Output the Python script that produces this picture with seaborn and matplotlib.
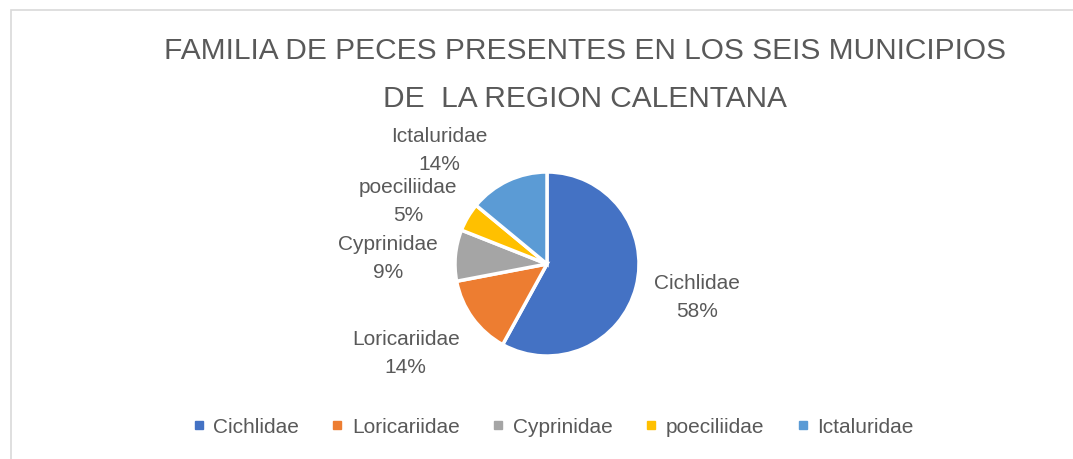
import matplotlib
matplotlib.use("Agg")
import matplotlib.pyplot as plt
from matplotlib.lines import Line2D
from matplotlib.patches import Rectangle
import numpy as np
import seaborn as sns

# datos del grafico
familias = ['Cichlidae', 'Loricariidae', 'Cyprinidae', 'poeciliidae', 'Ictaluridae']
porcentajes = [58, 14, 9, 5, 14]
colores = ['#4472C4', '#ED7D31', '#A5A5A5', '#FFC000', '#5B9BD5']
titulo = 'FAMILIA DE PECES PRESENTES EN LOS SEIS MUNICIPIOS\nDE  LA REGION CALENTANA'

sns.set_theme(style='white')
plt.rcParams['font.family'] = ['Liberation Sans', 'DejaVu Sans']
gris = '#595959'

W, H = 1073, 460
fig = plt.figure(figsize=(W / 100, H / 100), dpi=100)

# borde del area del grafico
fig.patches.append(Rectangle((10.5 / W, -0.1), 1.2, (H - 10.5) / H + 0.1,
                             transform=fig.transFigure, fill=False,
                             edgecolor='#d9d9d9', linewidth=1.2))

cx, cy, r = 547, 265, 92
ax = fig.add_axes([(cx - r) / W, (H - cy - r) / H, 2 * r / W, 2 * r / H])
wedges, _ = ax.pie(porcentajes, colors=colores, startangle=90, counterclock=False,
                   wedgeprops=dict(edgecolor='white', linewidth=2.5))
ax.set_xlim(-1, 1)
ax.set_ylim(-1, 1)
ax.set_aspect('equal')
ax.axis('off')

# etiquetas fuera del pastel (ajuste de angulo/distancia como Excel "mejor ajuste")
ajuste = [(2, 1.67), (-4, 1.81), (3, 1.73), (6, 1.66), (18, 1.71)]
for w, fam, p, (da, d) in zip(wedges, familias, porcentajes, ajuste):
    ang = np.deg2rad((w.theta1 + w.theta2) / 2 + da)
    ax.text(d * np.cos(ang), d * np.sin(ang), f'{fam}\n{p}%', ha='center', va='center',
            fontsize=15, color=gris, linespacing=1.6, clip_on=False)

fig.text(585 / W, 1 - 75 / H, titulo, ha='center', va='center', fontsize=21.5,
         color=gris, linespacing=1.9)

handles = [Line2D([], [], marker='s', linestyle='none', markersize=6,
                  markerfacecolor=c, markeredgecolor=c) for c in colores]
fig.legend(handles, familias, loc='center', bbox_to_anchor=(552 / W, 1 - 428 / H),
           ncol=5, frameon=False, handletextpad=0.3, columnspacing=1.45,
           prop={'size': 15}, labelcolor=gris, handlelength=0.8)

fig.savefig('out.png', dpi=100, facecolor='white')
